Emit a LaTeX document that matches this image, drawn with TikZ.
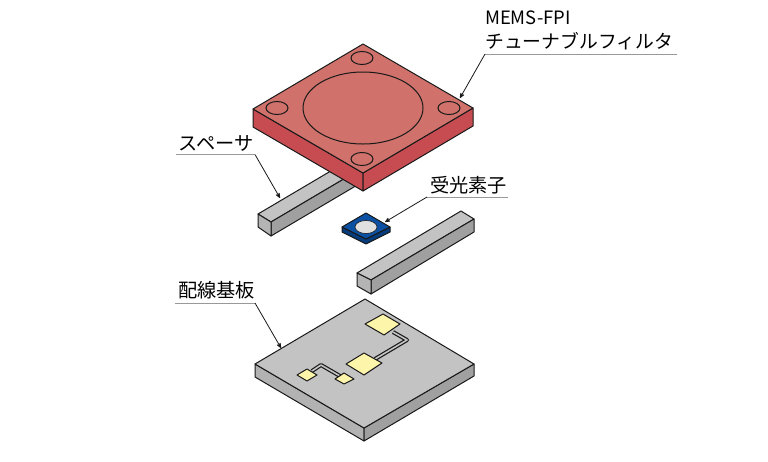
\documentclass[tikz,border=0pt]{standalone}
\usepackage{fontspec}
\setmainfont{Noto Sans CJK JP}
\usetikzlibrary{arrows,positioning}
\definecolor{redtop}{HTML}{D0726B}
\definecolor{redside}{HTML}{C74C52}
\definecolor{bartop}{HTML}{C3C3C3}
\definecolor{barside}{HTML}{A0A0A0}
\definecolor{barend}{HTML}{B4B4B4}
\definecolor{chiptop}{HTML}{0B50A2}
\definecolor{chipside}{HTML}{063C7C}
\definecolor{padcol}{HTML}{FDF5A9}
\tikzstyle{body}=[draw=black!90, line width=1pt, line join=round]
\tikzstyle{hole}=[draw=black!90, line width=1pt]
\tikzstyle{pad}=[draw=black!90, line width=1pt, line join=round, fill=padcol]
\tikzstyle{tag}=[inner sep=0pt, anchor=west, font=\fontsize{19.2}{20}\selectfont, text=black]
\tikzstyle{shelf}=[draw=black!40, line width=1pt]
\tikzstyle{lead}=[->, >=stealth', draw=black!90, line width=0.8pt]

\begin{document}
\begin{tikzpicture}[x=1pt, y=-1pt]
  \useasboundingbox (0,0) rectangle (768,461);
%
  % spacer behind the plate
  \draw[body, fill=bartop] (258,214) -- (368,149) -- (381,157) -- (271,222) -- cycle;
  \draw[body, fill=barside] (271,222) -- (381,157) -- (381,171) -- (271,236) -- cycle;
  \draw[body, fill=barend] (258,214) -- (271,222) -- (271,236) -- (258,227) -- cycle;
%
  % tunable filter
  \draw[body, fill=redside] (253,109) -- (363,173) -- (363,191) -- (253,127) -- cycle;
  \draw[body, fill=redside] (473,108) -- (363,173) -- (363,191) -- (473,126) -- cycle;
  \draw[body, fill=redtop] (363,44) -- (473,108) -- (363,173) -- (253,109) -- cycle;
  \draw[hole] (363,108) ellipse [x radius=60, y radius=36];
  \foreach \px/\py in {362/58, 277/108, 449/108, 362/159}
    \draw[hole] (\px,\py) ellipse [x radius=11, y radius=6.5];
%
  % chip
  \draw[body, fill=chipside] (342,227) -- (342,232) -- (366,244) -- (390,232) -- (390,227) -- (366,239) -- cycle;
  \draw[body, fill=chiptop] (366,213) -- (390,227) -- (366,239) -- (342,227) -- cycle;
  \draw[hole, line width=0.6pt, fill=black!12] (366,227) ellipse [x radius=11, y radius=6.5];
%
  % spacer in front
  \draw[body, fill=bartop] (357,273) -- (461,211) -- (474,219) -- (371,280) -- cycle;
  \draw[body, fill=barside] (371,280) -- (474,219) -- (474,232) -- (371,294) -- cycle;
  \draw[body, fill=barend] (357,273) -- (371,280) -- (371,294) -- (357,286) -- cycle;
%
  % wiring board
  \draw[body, fill=black!30] (255,364) -- (364,428) -- (364,441) -- (255,377) -- cycle;
  \draw[body, fill=barside] (474,364) -- (364,428) -- (364,441) -- (474,376) -- cycle;
  \draw[body, fill=bartop] (365,299) -- (474,364) -- (364,428) -- (255,364) -- cycle;
%
  % traces, black under grey
  \foreach \tw/\tc in {4pt/black!90, 1.6pt/bartop} {
    \draw[line width=\tw, draw=\tc, line join=round] (393,332) -- (407,340) -- (375,359);
    \draw[line width=\tw, draw=\tc, line join=round] (312,371) -- (321,365) -- (340,376);
  }
  \draw[pad] (383,314) -- (400,324) -- (384,335) -- (365,324) -- cycle;
  \draw[pad] (364,353) -- (382,363) -- (364,375) -- (346,364) -- cycle;
  \draw[pad] (307,369) -- (317,375) -- (307,381) -- (297,375) -- cycle;
  \draw[pad] (344,373) -- (354,379) -- (344,384) -- (335,379) -- cycle;
%
  % labels
  \node[tag, font=\fontsize{18.4}{20}\selectfont] (fpia) at (485,18) {MEMS-FPI};
  \node[tag, font=\fontsize{18.8}{20}\selectfont] (fpib) at (485,41) {チューナブルフィルタ};
  \node[tag] (spc) at (178,143) {スペーサ};
  \node[tag] (det) at (430,185) {受光素子};
  \node[tag] (pcb) at (178,290) {配線基板};
%
  \coordinate (fpil) at (485,54);
  \coordinate (fpir) at (677,54);
  \coordinate (fpit) at (460,98);
  \coordinate (spcl) at (176,154.5);
  \coordinate (spcr) at (255,154.5);
  \coordinate (spct) at (280,198);
  \coordinate (detl) at (427,197);
  \coordinate (detr) at (508,197);
  \coordinate (dett) at (385,222);
  \coordinate (pcbl) at (175,303);
  \coordinate (pcbr) at (255,303);
  \coordinate (pcbt) at (281,348);
%
  \draw[shelf] (fpil) -- (fpir);
  \draw[shelf] (spcl) -- (spcr);
  \draw[shelf] (detl) -- (detr);
  \draw[shelf] (pcbl) -- (pcbr);
  \draw[lead] (fpil) -- (fpit);
  \draw[lead] (spcr) -- (spct);
  \draw[lead] (detl) -- (dett);
  \draw[lead] (pcbr) -- (pcbt);
%
\end{tikzpicture}
\end{document}
